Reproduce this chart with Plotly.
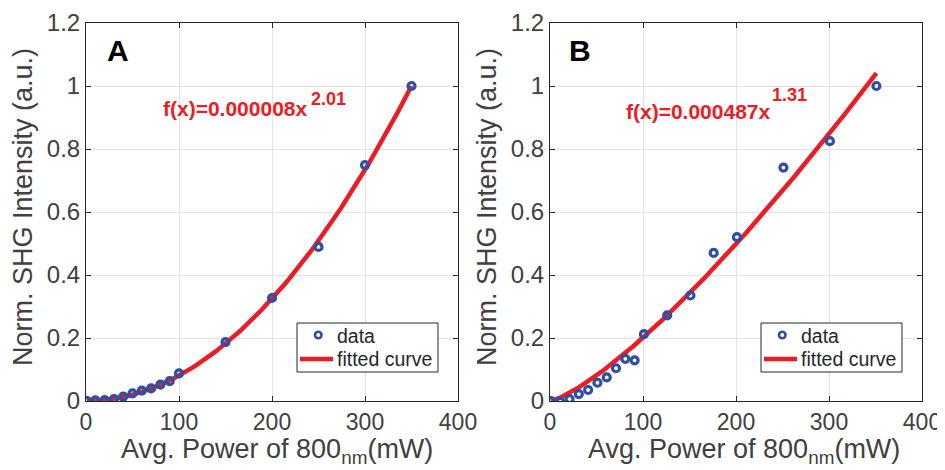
import numpy as np
import plotly.graph_objects as go

# Panel A data
a_power = [1, 10, 20, 30, 40, 50, 60, 70, 80, 90, 100, 150, 200, 250, 300, 350]
a_signal = [0.0, 0.002, 0.003, 0.006, 0.014, 0.024, 0.033, 0.040, 0.052, 0.063, 0.088,
            0.187, 0.327, 0.489, 0.749, 1.0]
a_coef, a_exp = 7.7e-6, 2.01

# Panel B data
b_power = [1, 11, 21, 31, 41, 51, 61, 71, 81, 91, 101, 126, 151, 176, 201, 251, 301, 351]
b_signal = [0.0, -0.003, 0.006, 0.022, 0.035, 0.058, 0.075, 0.104, 0.134, 0.129, 0.212,
            0.272, 0.335, 0.470, 0.520, 0.741, 0.825, 1.0]
b_coef, b_exp = 0.000482, 1.31

x_ticks = [0, 100, 200, 300, 400]
y_ticks = [0, 0.2, 0.4, 0.6, 0.8, 1.0, 1.2]
y_labels = ["0", "0.2", "0.4", "0.6", "0.8", "1", "1.2"]

FONT = "Liberation Sans, Arial, Helvetica, sans-serif"
BLUE = "#2f4fa6"
RED = "#ec1c24"
GREY = "#404040"
DARK = "#262626"

# page body has an 8px margin; figure sized so that it fits the 945x470 window
OFF = 8
FW, FH = 945 - OFF, 470 - OFF

def PX(x):
    return (x - OFF) / FW

def PY(y):
    return 1 - (y - OFF) / FH

fig = go.Figure()

def add_panel(px, py, coef, expo, xa, ya):
    xc = np.linspace(min(px), max(px), 200)
    yc = coef * xc ** expo
    fig.add_trace(go.Scatter(x=xc, y=yc, mode="lines", name="fitted curve",
                             line=dict(color=RED, width=4.5), xaxis=xa, yaxis=ya,
                             showlegend=False))
    fig.add_trace(go.Scatter(x=px, y=py, mode="markers", name="data",
                             marker=dict(symbol="circle-open", size=7, color=BLUE,
                                         line=dict(width=3.2, color=BLUE)),
                             xaxis=xa, yaxis=ya, showlegend=False))

add_panel(a_power, a_signal, a_coef, a_exp, "x", "y")
add_panel(b_power, b_signal, b_coef, b_exp, "x2", "y2")

ax_common = dict(range=[0, 400], tickvals=x_ticks, showgrid=True, gridcolor="#e3e3e3",
                 gridwidth=1, zeroline=False, showline=True, linecolor=DARK,
                 linewidth=1, mirror="ticks", ticks="inside", ticklen=5,
                 tickcolor=DARK, automargin=False,
                 tickfont=dict(size=23, color=GREY, family=FONT))
ay_common = dict(range=[0, 1.2], tickvals=y_ticks, ticktext=y_labels, showgrid=True,
                 gridcolor="#e3e3e3", gridwidth=1, zeroline=False, showline=True,
                 linecolor=DARK, linewidth=1, mirror="ticks", ticks="inside",
                 ticklen=5, tickcolor=DARK, automargin=False,
                 tickfont=dict(size=24, color=GREY, family=FONT))

ydom = [PY(401), PY(23)]
fig.update_layout(
    width=FW, height=FH, margin=dict(l=0, r=0, t=0, b=0, autoexpand=False),
    plot_bgcolor="white", paper_bgcolor="white", showlegend=False,
    xaxis=dict(domain=[PX(86), PX(458)], anchor="y", **ax_common),
    yaxis=dict(domain=ydom, anchor="x", **ay_common),
    xaxis2=dict(domain=[PX(550), PX(922)], anchor="y2", **ax_common),
    yaxis2=dict(domain=ydom, anchor="x2", **ay_common),
    font=dict(family=FONT),
)

def txt(x, y, text, size, color, xanchor="center", yanchor="middle", angle=0):
    fig.add_annotation(xref="paper", yref="paper", x=PX(x), y=PY(y), text=text,
                       showarrow=False, xanchor=xanchor, yanchor=yanchor, textangle=angle,
                       borderpad=0, font=dict(size=size, color=color, family=FONT))

# panel letters
txt(118, 50, "<b>A</b>", 30, "black")
txt(580, 50, "<b>B</b>", 30, "black")

# fit equations
txt(162, 108, "<b>f(x)=0.000008x</b>", 21, RED, xanchor="left")
txt(310, 99, "<b>2.01</b>", 18, RED, xanchor="left")
txt(625, 111, "<b>f(x)=0.000487x</b>", 21, RED, xanchor="left")
txt(771, 95, "<b>1.31</b>", 18, RED, xanchor="left")

# axis titles
xtitle = "Avg. Power of 800<sub>nm</sub>(mW)"
ytitle = "Norm. SHG Intensity (a.u.)"
txt(277, 451, xtitle, 27, GREY)
txt(744, 451, xtitle, 27, GREY)
txt(23, 207, ytitle, 27, GREY, angle=-90)
txt(487, 207, ytitle, 27, GREY, angle=-90)

# legends (box, key symbols, labels)
for bx in (297, 761):
    fig.add_shape(type="rect", xref="paper", yref="paper", x0=PX(bx), x1=PX(bx + 141),
                  y0=PY(372), y1=PY(323), line=dict(color=DARK, width=1),
                  fillcolor="white", layer="above")
    fig.add_shape(type="circle", xref="paper", yref="paper", x0=PX(bx + 18), x1=PX(bx + 24.5),
                  y0=PY(338.3), y1=PY(331.8), line=dict(color=BLUE, width=2.6),
                  layer="above")
    fig.add_shape(type="line", xref="paper", yref="paper", x0=PX(bx + 3), x1=PX(bx + 36),
                  y0=PY(359), y1=PY(359), line=dict(color=RED, width=4.5), layer="above")
    txt(bx + 39, 336, "data", 19.5, DARK, xanchor="left")
    txt(bx + 39, 359, "fitted curve", 19.5, DARK, xanchor="left")

fig.write_html("out.html")
